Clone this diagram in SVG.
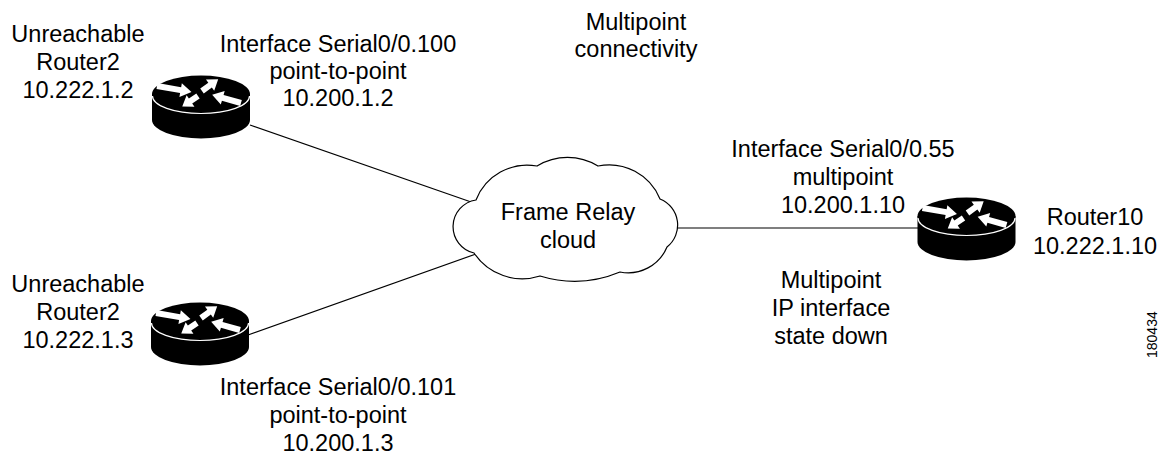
<svg xmlns="http://www.w3.org/2000/svg" xmlns:xlink="http://www.w3.org/1999/xlink" width="1174" height="454" viewBox="0 0 1174 454">
<style>
.t{font-family:"Liberation Sans",Arial,Helvetica,sans-serif;font-size:23.5px;text-anchor:middle;fill:#000}
.id{font-family:"Liberation Sans",Arial,Helvetica,sans-serif;font-size:14px;fill:#000}
.ln{stroke:#000;stroke-width:1.2;fill:none}
.arw{fill:#fff}
</style>
<defs>
<g id="router">
<path d="M-49,0 V26 A49,18.5 0 0 0 49,26 V0 Z" fill="#000"/>
<ellipse cx="0" cy="0" rx="49" ry="18.5" fill="#000"/>
<path d="M-48.5,2 A48.5,17.5 0 0 0 48.5,2" fill="none" stroke="#fff" stroke-width="1.2"/>
<polygon class="arw" points="0,-3 24,-3 24,-7 35,0 24,7 24,3 0,3" transform="translate(-44,-8) rotate(10)"/>
<polygon class="arw" points="0,-3 10,-3 10,-7 20,0 10,7 10,3 0,3" transform="translate(1,-3) rotate(-36)"/>
<polygon class="arw" points="0,-3 19,-3 19,-7 30,0 19,7 19,3 0,3" transform="translate(40,9) rotate(196)"/>
<polygon class="arw" points="0,-3 9,-3 9,-7 19,0 9,7 9,3 0,3" transform="translate(-3,2) rotate(146)"/>
</g>
</defs>
<rect width="1174" height="454" fill="#fff"/>
<g id="connectors">
<line class="ln" x1="250" y1="125" x2="474" y2="203"/>
<line class="ln" x1="248" y1="335" x2="476" y2="254"/>
<line class="ln" x1="676" y1="228" x2="918" y2="228"/>
</g>
<g id="cloud">
<path d="M474,253 A27,27 0 0 1 476,200 A55,55 0 0 1 537,166 A58,58 0 0 1 598,166 A55,55 0 0 1 660,199 A28,28 0 0 1 667,247 A42,42 0 0 1 620,272 A118,118 0 0 1 540,276 A58,58 0 0 1 474,253 Z" fill="#fff" stroke="#000" stroke-width="1.2"/>
<text class="t" x="568" y="220">Frame Relay</text>
<text class="t" x="568" y="248">cloud</text>
</g>
<g id="router-top">
<use xlink:href="#router" href="#router" x="201" y="94"/>
<text class="t" x="78" y="42">Unreachable</text>
<text class="t" x="78" y="70">Router2</text>
<text class="t" x="78" y="98">10.222.1.2</text>
</g>
<g id="label-top-iface">
<text class="t" x="338" y="52">Interface Serial0/0.100</text>
<text class="t" x="338" y="79">point-to-point</text>
<text class="t" x="338" y="106">10.200.1.2</text>
</g>
<g id="label-multipoint-conn">
<text class="t" x="636" y="30">Multipoint</text>
<text class="t" x="636" y="57">connectivity</text>
</g>
<g id="router-bottom">
<use xlink:href="#router" href="#router" x="200" y="321"/>
<text class="t" x="78" y="292">Unreachable</text>
<text class="t" x="78" y="320">Router2</text>
<text class="t" x="78" y="348">10.222.1.3</text>
</g>
<g id="label-bottom-iface">
<text class="t" x="338" y="395">Interface Serial0/0.101</text>
<text class="t" x="338" y="423">point-to-point</text>
<text class="t" x="338" y="451">10.200.1.3</text>
</g>
<g id="router10">
<use xlink:href="#router" href="#router" x="966.5" y="216"/>
<text class="t" x="1095" y="225">Router10</text>
<text class="t" x="1095" y="254">10.222.1.10</text>
</g>
<g id="label-right-iface">
<text class="t" x="843" y="157">Interface Serial0/0.55</text>
<text class="t" x="843" y="185">multipoint</text>
<text class="t" x="843" y="213">10.200.1.10</text>
</g>
<g id="label-down">
<text class="t" x="831" y="288">Multipoint</text>
<text class="t" x="831" y="316">IP interface</text>
<text class="t" x="831" y="344">state down</text>
</g>
<text class="id" transform="translate(1157,358) rotate(-90)">180434</text>
</svg>
